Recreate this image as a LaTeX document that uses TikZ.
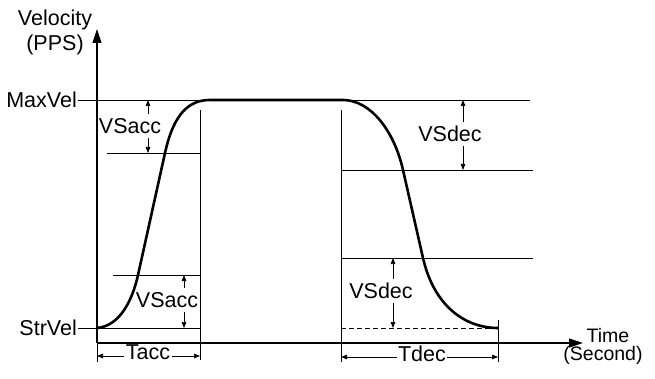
\documentclass[tikz,border=0pt]{standalone}
\usepackage{fontspec}
\setmainfont{Liberation Sans}
\usetikzlibrary{arrows.meta,positioning}

\tikzset{
	lbl/.style={inner xsep=2pt, inner ysep=4pt, font=\fontsize{21.5}{25}\selectfont},
	tlbl/.style={inner sep=0pt, anchor=base, font=\fontsize{19.5}{20}\selectfont},
	thinline/.style={line width=0.7pt},
	profile/.style={line width=2.6pt, line join=round},
	axis/.style={line width=1.1pt, -{Triangle[length=14pt,width=9pt]}},
	dimarr/.style={line width=0.7pt, -{Triangle[length=6pt,width=4.5pt]}},
}

\begin{document}
\begin{tikzpicture}[x=1pt, y=-1pt]
		\useasboundingbox (0,0) rectangle (655,379);
		
		% Axes
		\coordinate (o) at (97,343);
		\coordinate (ytip) at (97,29);
		\coordinate (xtip) at (583,343);
		\draw[axis] (o) -- (ytip);
		\draw[axis] (o) -- (xtip);
		\node[lbl, align=center, inner sep=0pt] (vel) at (55,32) {Velocity\\(PPS)};
		\node[tlbl] (time) at (608,342) {Time};
		\node[tlbl] (second) at (603,360) {(Second)};
		
		% Speed levels
		\node[lbl, anchor=east, inner xsep=1pt] (maxvel) at (78,100) {MaxVel};
		\node[lbl, anchor=east, inner xsep=1pt] (strvel) at (78,328) {StrVel};
		\coordinate (maxR) at (530,100);
		\coordinate (strR) at (200,328);
		\draw[thinline] (maxvel.east) -- (maxR);
		\draw[thinline] (strvel.east) -- (strR);
		
		% Step lines
		\coordinate (aU1) at (107,153);
		\coordinate (aU2) at (200,153);
		\coordinate (aL1) at (113,275);
		\coordinate (aL2) at (200,275);
		\coordinate (dU1) at (341,170);
		\coordinate (dU2) at (533,170);
		\coordinate (dL1) at (341,258);
		\coordinate (dL2) at (533,258);
		\coordinate (dS1) at (341,328);
		\coordinate (dS2) at (498,328);
		\draw[thinline] (aU1) -- (aU2);
		\draw[thinline] (aL1) -- (aL2);
		\draw[thinline] (dU1) -- (dU2);
		\draw[thinline] (dL1) -- (dL2);
		\draw[thinline, dash pattern=on 5pt off 3pt] (dS1) -- (dS2);
		
		% Time ticks
		\coordinate (taccLB) at (97,362);
		\coordinate (taccRT) at (200,110);
		\coordinate (taccRB) at (200,360);
		\coordinate (tdecLT) at (341,110);
		\coordinate (tdecLB) at (341,362);
		\coordinate (tdecRT) at (498,320);
		\coordinate (tdecRB) at (498,362);
		\draw[thinline] (o) -- (taccLB);
		\draw[thinline] (taccRT) -- (taccRB);
		\draw[thinline] (tdecLT) -- (tdecLB);
		\draw[thinline] (tdecRT) -- (tdecRB);
		
		% Velocity profile
		\coordinate (s0) at (97,328);
		\coordinate (a1) at (138,275);
		\coordinate (a2) at (165,153);
		\coordinate (a3) at (210,100);
		\coordinate (d0) at (343,100);
		\coordinate (d1) at (403,170);
		\coordinate (d2) at (423,258);
		\coordinate (d3) at (498,328);
		\draw[profile] (s0) .. controls +(23,-2) and +(-5.5,25) .. (a1) -- (a2)
			.. controls +(9,-41) and +(-20,0) .. (a3) -- (d0)
			.. controls +(27,0) and +(-9,-40) .. (d1) -- (d2)
			.. controls +(11,48) and +(-33,0) .. (d3);
		
		% Velocity steps
		\node[lbl] (vsaccA) at (130,126) {VSacc};
		\node[lbl] (vsaccB) at (167,300) {VSacc};
		\node[lbl] (vsdecA) at (450,134) {VSdec};
		\node[lbl] (vsdecB) at (381,291) {VSdec};
		\coordinate (vaT) at (148,100);
		\coordinate (vaB) at (148,153);
		\coordinate (vbT) at (184,275);
		\coordinate (vbB) at (184,328);
		\coordinate (vcT) at (463,100);
		\coordinate (vcB) at (463,170);
		\coordinate (vdT) at (393,258);
		\coordinate (vdB) at (393,328);
		\draw[dimarr] (vsaccA.north -| vaT) -- (vaT);
		\draw[dimarr] (vsaccA.south -| vaB) -- (vaB);
		\draw[dimarr] (vsaccB.north -| vbT) -- (vbT);
		\draw[dimarr] (vsaccB.south -| vbB) -- (vbB);
		\draw[dimarr] (vsdecA.north -| vcT) -- (vcT);
		\draw[dimarr] (vsdecA.south -| vcB) -- (vcB);
		\draw[dimarr] (vsdecB.north -| vdT) -- (vdT);
		\draw[dimarr] (vsdecB.south -| vdB) -- (vdB);
		
		% Acceleration and deceleration times
		\node[lbl] (tacc) at (148,352) {Tacc};
		\node[lbl, inner xsep=1pt] (tdec) at (422,354) {Tdec};
		\coordinate (taL) at (97,356);
		\coordinate (taR) at (200,356);
		\coordinate (tdL) at (341,357);
		\coordinate (tdR) at (498,357);
		\draw[dimarr] (tacc.west |- taL) -- (taL);
		\draw[dimarr] (tacc.east |- taR) -- (taR);
		\draw[dimarr] (tdec.west |- tdL) -- (tdL);
		\draw[dimarr] (tdec.east |- tdR) -- (tdR);
	\end{tikzpicture}
\end{document}
